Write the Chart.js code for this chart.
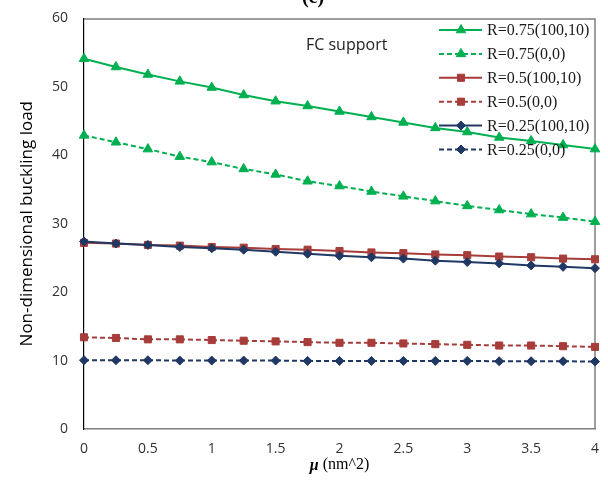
<!DOCTYPE html>
<html>
<head>
<meta charset="utf-8">
<script src="https://cdn.jsdelivr.net/npm/chart.js@4.4.1/dist/chart.umd.min.js"></script>
<style>
  html, body { margin: 0; padding: 0; background: #fff; }
  #wrap { width: 608px; height: 481px; }
</style>
</head>
<body>
<div id="wrap"><canvas id="buckling" width="608" height="481"></canvas></div>
<script>
// nonlocal parameter values on the x axis
var mu = [0, 0.25, 0.5, 0.75, 1, 1.25, 1.5, 1.75, 2, 2.25, 2.5, 2.75, 3, 3.25, 3.5, 3.75, 4];

var seriesNames = ['R=0.75(100,10)', 'R=0.75(0,0)', 'R=0.5(100,10)', 'R=0.5(0,0)', 'R=0.25(100,10)', 'R=0.25(0,0)'];

var r75Found = [54.1, 52.9, 51.8, 50.8, 49.9, 48.8, 47.9, 47.2, 46.4, 45.6, 44.8, 44.0, 43.4, 42.6, 42.1, 41.5, 40.9];
var r75Bare  = [42.9, 41.9, 40.9, 39.8, 39.0, 38.0, 37.2, 36.2, 35.5, 34.7, 34.0, 33.3, 32.6, 32.0, 31.4, 30.9, 30.3];
var r50Found = [27.2, 27.1, 26.9, 26.8, 26.6, 26.5, 26.3, 26.2, 26.0, 25.8, 25.7, 25.5, 25.4, 25.2, 25.1, 24.9, 24.8];
var r50Bare  = [13.4, 13.3, 13.1, 13.1, 13.0, 12.9, 12.8, 12.7, 12.6, 12.6, 12.5, 12.4, 12.3, 12.2, 12.2, 12.1, 12.0];
var r25Found = [27.4, 27.1, 26.9, 26.6, 26.4, 26.2, 25.9, 25.6, 25.3, 25.1, 24.9, 24.6, 24.4, 24.2, 23.9, 23.7, 23.5];
var r25Bare  = [10.05, 10.05, 10.05, 10.0, 10.0, 10.0, 10.0, 9.95, 9.95, 9.95, 9.95, 9.95, 9.95, 9.9, 9.9, 9.9, 9.85];

var yTicks = [0, 10, 20, 30, 40, 50, 60];
var xTicks = [0, 0.5, 1, 1.5, 2, 2.5, 3, 3.5, 4];

var GREEN = '#00B050', RED = '#A63D3A', BLUE = '#1F3864';

function series(i, values, color, dashed, style, radius) {
  return {
    label: seriesNames[i],
    data: values.map(function (v, k) { return { x: mu[k], y: v }; }),
    borderColor: color,
    backgroundColor: color,
    borderWidth: 2,
    borderDash: dashed ? [5, 3] : [],
    pointStyle: style,
    pointRadius: radius,
    pointBorderWidth: 1,
    pointBackgroundColor: color,
    pointBorderColor: color,
    tension: 0,
    clip: false,
    order: 6 - i
  };
}

// gray frame round the plot area (left side stays black from the y axis)
var framePlugin = {
  id: 'frame',
  beforeDatasetsDraw: function (chart) {
    var a = chart.chartArea, ctx = chart.ctx;
    ctx.save();
    ctx.strokeStyle = '#7f7f7f';
    ctx.lineWidth = 1.5;
    ctx.beginPath();
    ctx.moveTo(a.left, a.top + 0.5);
    ctx.lineTo(a.right, a.top + 0.5);
    ctx.lineTo(a.right, a.bottom);
    ctx.stroke();
    ctx.restore();
  }
};

// panel label, support note, x title and the in-plot legend
var notesPlugin = {
  id: 'notes',
  afterDatasetsDraw: function (chart) {
    var ctx = chart.ctx;
    ctx.save();
    ctx.fillStyle = '#000';
    ctx.font = 'bold 20px "Liberation Serif"';
    ctx.textAlign = 'center';
    ctx.textBaseline = 'alphabetic';
    ctx.fillText('(c)', 313, 3);

    // x title: italic bold mu, upright units
    var a = chart.chartArea;
    var cx = (a.left + a.right) / 2;
    ctx.textAlign = 'left';
    ctx.textBaseline = 'middle';
    ctx.font = 'italic bold 16px "Liberation Serif"';
    var w1 = ctx.measureText('μ').width;
    ctx.font = '16px "Liberation Serif"';
    var rest = ' (nm^2)';
    var w2 = ctx.measureText(rest).width;
    var x0 = cx - (w1 + w2) / 2;
    ctx.font = 'italic bold 16px "Liberation Serif"';
    ctx.fillText('μ', x0, 466);
    ctx.font = '16px "Liberation Serif"';
    ctx.fillText(rest, x0 + w1, 465);

    ctx.fillStyle = '#222';
    ctx.font = '16px "Open Sans"';
    ctx.fillText('FC support', 306, 45);

    ctx.font = '16px "Liberation Serif"';
    chart.data.datasets.forEach(function (ds, i) {
      var y = 30 + i * 23.9;
      ctx.strokeStyle = ds.borderColor;
      ctx.lineWidth = ds.borderWidth;
      ctx.setLineDash(ds.borderDash);
      ctx.beginPath();
      ctx.moveTo(439, y);
      ctx.lineTo(482, y);
      ctx.stroke();
      ctx.setLineDash([]);
      ctx.fillStyle = ds.pointBackgroundColor;
      ctx.lineWidth = 1;
      Chart.helpers.drawPoint(ctx, { pointStyle: ds.pointStyle, radius: ds.pointRadius, rotation: 0, borderWidth: 1 }, 461, y);
      ctx.fillStyle = '#1a1a1a';
      ctx.fillText(ds.label, 487, y + 1);
    });
    ctx.restore();
  }
};

new Chart(document.getElementById('buckling'), {
  type: 'line',
  data: {
    datasets: [
      series(0, r75Found, GREEN, false, 'triangle', 5.5),
      series(1, r75Bare, GREEN, true, 'triangle', 5.5),
      series(2, r50Found, RED, false, 'rect', 5),
      series(3, r50Bare, RED, true, 'rect', 5),
      series(4, r25Found, BLUE, false, 'rectRot', 4.5),
      series(5, r25Bare, BLUE, true, 'rectRot', 4.5)
    ]
  },
  options: {
    responsive: false,
    animation: false,
    layout: { padding: { left: 0, right: 13, top: 17, bottom: 0 } },
    plugins: { legend: { display: false }, tooltip: { enabled: false } },
    scales: {
      x: {
        type: 'linear',
        min: 0,
        max: 4,
        afterBuildTicks: function (s) { s.ticks = xTicks.map(function (v) { return { value: v }; }); },
        afterFit: function (s) { s.height = 52; },
        grid: { display: false, drawTicks: true, tickLength: 6, tickColor: '#555' },
        border: { display: true, color: '#7f7f7f', width: 1.5 },
        ticks: {
          color: '#333', font: { family: 'Open Sans', size: 14 }, padding: 6, maxRotation: 0,
          callback: function (v) { return String(v); }
        }
      },
      y: {
        min: 0,
        max: 60,
        afterBuildTicks: function (s) { s.ticks = yTicks.map(function (v) { return { value: v }; }); },
        afterFit: function (s) { s.width = 84; },
        grid: { display: false, drawTicks: true, tickLength: 6, tickColor: '#555' },
        border: { display: true, color: '#000', width: 1.2 },
        ticks: { color: '#333', font: { family: 'Open Sans', size: 14 }, padding: 10 },
        title: { display: true, text: 'Non-dimensional buckling load', color: '#000', font: { family: 'Open Sans', size: 17 }, padding: { top: 17, bottom: 0 } }
      }
    }
  },
  plugins: [framePlugin, notesPlugin]
});
</script>
</body>
</html>
